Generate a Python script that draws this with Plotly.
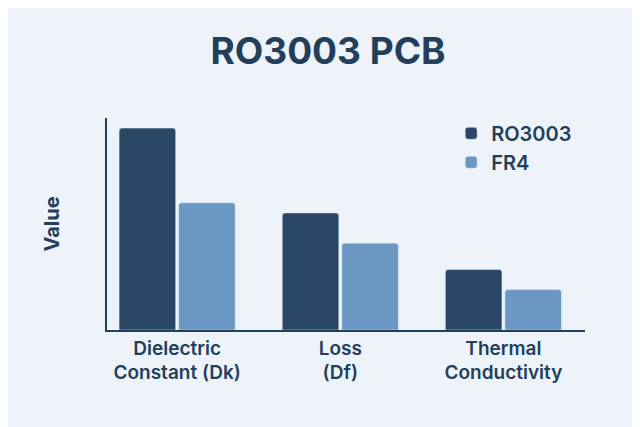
import plotly.graph_objects as go

categories = ["Dielectric<br>Constant (Dk)", "Loss<br>(Df)", "Thermal<br>Conductivity"]
ro3003 = [10.0, 5.8, 3.0]
fr4 = [6.3, 4.3, 2.0]

fig = go.Figure()
fig.add_bar(name="RO3003", x=categories, y=ro3003, marker=dict(color="#2a4865", cornerradius=3))
fig.add_bar(name="FR4", x=categories, y=fr4, marker=dict(color="#6b97c3", cornerradius=3))
fig.update_layout(
    width=640, height=427,
    margin=dict(l=99, r=63, t=110, b=105),
    paper_bgcolor="#eef3f9", plot_bgcolor="rgba(0,0,0,0)",
    barmode="group", bargap=0.27, bargroupgap=0.05,
    title=dict(text="<b>RO3003 PCB</b>", x=0.5, xanchor="center", y=0.90, yanchor="middle",
               font=dict(family="Inter, Roboto, sans-serif", size=37, color="#233f5c")),
    font=dict(family="Inter, Roboto, sans-serif", color="#233f5c"),
    legend=dict(x=0.72, y=1.02, xanchor="left", yanchor="top", bgcolor="rgba(0,0,0,0)",
                font=dict(size=20, color="#233f5c", weight=600)),
    xaxis=dict(range=[-0.43, 2.5], showline=True, linecolor="#233f5c", linewidth=1.5,
               tickfont=dict(size=19, color="#233f5c", weight=600), ticks=""),
    yaxis=dict(range=[0, 10.5], showline=True, linecolor="#233f5c", linewidth=1.5,
               showticklabels=False, showgrid=False, zeroline=False,
               title=dict(text="<b>Value</b>", font=dict(size=20, color="#233f5c"), standoff=40)),
)
fig.write_html("out.html")
